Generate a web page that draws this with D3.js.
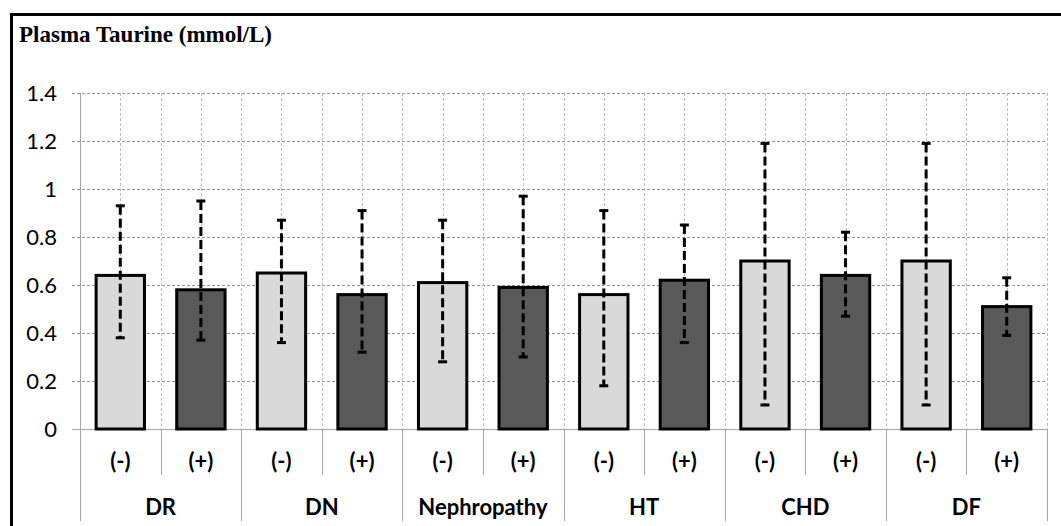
<!DOCTYPE html>
<html>
<head>
<meta charset="utf-8">
<script src="https://cdn.jsdelivr.net/npm/d3@7"></script>
<style>
  body { margin: 0; background: #fff; }
  svg { display: block; }
  .title { font-family: 'Liberation Serif', serif; font-weight: bold; font-size: 23px; }
  .tick-label { font-family: Lato, 'Open Sans', sans-serif; font-size: 22px; fill: #000; }
  .cat-label { font-family: Lato, 'Open Sans', sans-serif; font-weight: bold; font-size: 22px; fill: #000; }
</style>
</head>
<body>
<svg id="chart" width="1061" height="526"></svg>
<script>
// chart data
const groups = ['DR', 'DN', 'Nephropathy', 'HT', 'CHD', 'DF']
const status = ['(-)', '(+)']
const means = [0.64, 0.58, 0.65, 0.56, 0.61, 0.59, 0.56, 0.62, 0.70, 0.64, 0.70, 0.51]
const upper = [0.93, 0.95, 0.87, 0.91, 0.87, 0.97, 0.91, 0.85, 1.19, 0.82, 1.19, 0.63]
const lower = [0.38, 0.37, 0.36, 0.32, 0.28, 0.30, 0.18, 0.36, 0.10, 0.47, 0.10, 0.39]
const yTicks = [0, 0.2, 0.4, 0.6, 0.8, 1, 1.2, 1.4]

const rows = []
groups.forEach((g, gi) => {
  status.forEach((s, si) => {
    const i = gi * status.length + si
    rows.push({ key: g + s, group: g, status: s, mean: means[i], hi: upper[i], lo: lower[i] })
  })
})

const svg = d3.select('#chart')
const plot = { left: 80, right: 1047, top: 93, bottom: 429, axisBottom: 521, innerTick: 475 }

// outer frame
svg.append('path')
  .attr('d', 'M11.5,530 L11.5,14.5 L1065,14.5')
  .attr('fill', 'none')
  .attr('stroke', '#000')
  .attr('stroke-width', 3)

svg.append('text')
  .attr('class', 'title')
  .attr('x', 19)
  .attr('y', 42)
  .text('Plasma Taurine (mmol/L)')

// scales
const x = d3.scaleBand()
  .domain(rows.map(d => d.key))
  .range([plot.left, plot.right])
  .paddingInner(0.4)
  .paddingOuter(0.2)
const step = x.step()

const y = d3.scaleLinear()
  .domain([0, 1.4])
  .range([plot.bottom, plot.top])

// horizontal gridlines (dashed) with small ticks to the left
svg.append('g')
  .selectAll('line')
  .data(yTicks.filter(d => d > 0))
  .join('line')
  .attr('x1', plot.left - 8)
  .attr('x2', plot.right)
  .attr('y1', d => Math.round(y(d)) + 0.5)
  .attr('y2', d => Math.round(y(d)) + 0.5)
  .attr('stroke', '#999')
  .attr('stroke-dasharray', '3,2')

// vertical gridlines (dashed) every half category
const vLines = []
for (let i = 1; i <= rows.length * 2; i++) vLines.push(plot.left + i * step / 2)
svg.append('g')
  .selectAll('line')
  .data(vLines)
  .join('line')
  .attr('x1', d => Math.round(d) + 0.5)
  .attr('x2', d => Math.round(d) + 0.5)
  .attr('y1', plot.top)
  .attr('y2', plot.bottom)
  .attr('stroke', '#bfbfbf')
  .attr('stroke-dasharray', '3,2')

// axes lines
svg.append('line')
  .attr('x1', plot.left + 0.5).attr('x2', plot.left + 0.5)
  .attr('y1', plot.top).attr('y2', plot.axisBottom)
  .attr('stroke', '#a6a6a6')
svg.append('line')
  .attr('x1', plot.left - 8).attr('x2', plot.right)
  .attr('y1', plot.bottom + 0.5).attr('y2', plot.bottom + 0.5)
  .attr('stroke', '#a6a6a6')

// y tick labels
svg.append('g')
  .selectAll('text')
  .data(yTicks)
  .join('text')
  .attr('class', 'tick-label')
  .attr('x', 57)
  .attr('y', d => y(d))
  .attr('dy', '0.35em')
  .attr('text-anchor', 'end')
  .text(d => d3.format('')(d))

// category separators below the axis
svg.append('g')
  .selectAll('line')
  .data(rows.map((d, i) => i + 1))
  .join('line')
  .attr('x1', i => Math.round(plot.left + i * step) + 0.5)
  .attr('x2', i => Math.round(plot.left + i * step) + 0.5)
  .attr('y1', plot.bottom)
  .attr('y2', i => i % status.length === 0 ? plot.axisBottom : plot.innerTick)
  .attr('stroke', '#a6a6a6')

// bars
svg.append('g')
  .selectAll('rect')
  .data(rows)
  .join('rect')
  .attr('x', d => x(d.key))
  .attr('y', d => y(d.mean))
  .attr('width', x.bandwidth())
  .attr('height', d => y(0) - y(d.mean))
  .attr('fill', d => d.status === '(-)' ? '#d9d9d9' : '#595959')
  .attr('stroke', '#000')
  .attr('stroke-width', 3)

// error bars
const err = svg.append('g')
  .selectAll('g')
  .data(rows)
  .join('g')
  .attr('transform', d => 'translate(' + (x(d.key) + x.bandwidth() / 2) + ',0)')
err.append('line')
  .attr('y1', d => y(d.hi))
  .attr('y2', d => y(d.lo))
  .attr('stroke', '#000')
  .attr('stroke-width', 3)
  .attr('stroke-dasharray', '9,4')
err.selectAll('.cap')
  .data(d => [d.hi, d.lo])
  .join('line')
  .attr('class', 'cap')
  .attr('x1', -4.5).attr('x2', 4.5)
  .attr('y1', v => y(v))
  .attr('y2', v => y(v))
  .attr('stroke', '#000')
  .attr('stroke-width', 3)

// category labels
svg.append('g')
  .selectAll('text')
  .data(rows)
  .join('text')
  .attr('class', 'cat-label')
  .attr('x', d => x(d.key) + x.bandwidth() / 2)
  .attr('y', 461)
  .attr('dy', '0.35em')
  .attr('text-anchor', 'middle')
  .text(d => d.status)

svg.append('g')
  .selectAll('text')
  .data(groups)
  .join('text')
  .attr('class', 'cat-label')
  .attr('x', (g, i) => plot.left + (i + 0.5) * step * status.length)
  .attr('y', 507)
  .attr('dy', '0.35em')
  .attr('text-anchor', 'middle')
  .text(g => g)
</script>
</body>
</html>
